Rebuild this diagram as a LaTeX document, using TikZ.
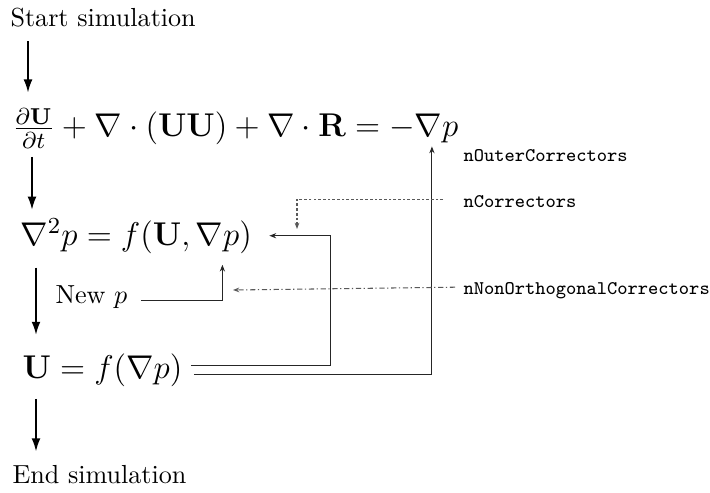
\documentclass[tikz,border=0pt]{standalone}
\usepackage{fix-cm}
\usepackage{amsmath,amssymb}
\usetikzlibrary{arrows.meta,positioning,calc}

\begin{document}
\begin{tikzpicture}[
    x=0.383pt, y=-0.383pt,
    txt/.style={anchor=base west, inner sep=0pt},
    eqn/.style={anchor=base west, inner sep=0pt, font=\fontsize{12.6}{15}\selectfont},
    ctrl/.style={anchor=base west, inner sep=0pt, font=\fontsize{7.4}{9}\selectfont\ttfamily},
    arr/.style={-{Latex[length=5pt,width=3.4pt]}, semithick},
    fb/.style={-{Stealth[length=2.6pt,width=2pt]}, thin, black!85},
    ctlline/.style={-{Stealth[length=2.4pt,width=1.8pt]}, thin, black!65}
]
    \useasboundingbox (0,0) rectangle (710,493);

    % solver steps
    \node[txt] (start) at (10,27) {Start simulation};
    \node[eqn] (mom) at (12,137) {$\frac{\partial\mathbf{U}}{\partial t} + \nabla\cdot(\mathbf{U}\mathbf{U}) + \nabla\cdot\mathbf{R} = -\nabla p$};
    \node[eqn] (peq) at (20,245) {$\nabla^2 p = f(\mathbf{U},\nabla p)$};
    \node[txt] (newp) at (55,303) {New $p$};
    \node[eqn] (ueq) at (22,378) {$\mathbf{U} = f(\nabla p)$};
    \node[txt] (end) at (12,483) {End simulation};

    % loop controls
    \node[ctrl] (nouter) at (463,162) {nOuterCorrectors};
    \node[ctrl] (ncorr) at (463,208) {nCorrectors};
    \node[ctrl] (nnonorth) at (463,294) {nNonOrthogonalCorrectors};
    \coordinate (corrhit) at (297,229);
    \coordinate (nonorthhit) at (233,290);

    \draw[arr] ($(start.south west)+(18,13)$) -- ($(mom.north west)+(16,-15)$);
    \draw[arr] ($(mom.south west)+(20,8)$) -- ($(peq.north west)+(12,-8)$);
    \draw[arr] ($(peq.south west)+(16,14)$) -- ($(ueq.north west)+(14,-18)$);
    \draw[arr] ($(ueq.south west)+(14,12)$) -- ($(end.north west)+(24,-13)$);

    \draw[fb] ($(newp.east)+(13,4)$) -| ($(peq.south east)+(-30,11)$);
    \draw[fb] ($(ueq.east)+(8,-4)$) -| ($(peq.east)+(78,0)$) -- ($(peq.east)+(17,0)$);
    \draw[fb, shorten >=7pt] ($(ueq.east)+(11,5)$) -| ($(mom.east)+(-27,0)$);

    \draw[ctlline, dash pattern=on 1pt off 0.8pt] ($(ncorr.west)+(-20,-3)$) -| (corrhit);
    \draw[ctlline, dash pattern=on 2pt off 1pt on 0.5pt off 1pt] ($(nnonorth.west)+(-8,-3)$) -- (nonorthhit);
\end{tikzpicture}
\end{document}
